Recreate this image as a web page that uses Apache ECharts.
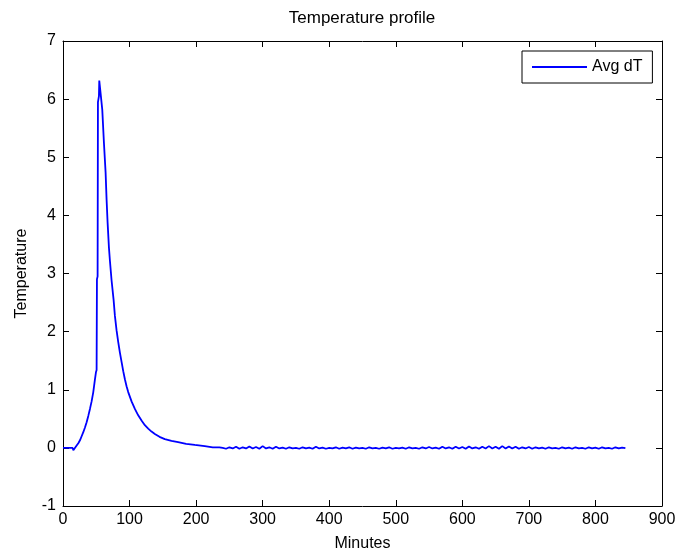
<!DOCTYPE html>
<html>
<head>
<meta charset="utf-8">
<script src="https://cdn.jsdelivr.net/npm/echarts@6/dist/echarts.min.js"></script>
<style>
html,body{margin:0;padding:0;background:#fff;}
#chart{width:683px;height:557px;}
</style>
</head>
<body>
<div id="chart"></div>
<script>
var titleText = 'Temperature profile';
var seriesName = 'Avg dT';
var xName = 'Minutes';
var yName = 'Temperature';

var minutes = [0, 5, 10, 14.5, 15.5, 18, 20.5, 23, 25.5, 28, 30.5, 33, 35.5, 38, 40.5, 43, 45.5, 48, 49.5, 50.5, 51, 52, 52.5, 54, 54.5, 55.5, 56.5, 59, 61.5, 64, 65.5, 67, 69, 70.5, 73, 76, 78, 80.5, 83, 85.5, 88, 90.5, 93, 95.5, 98, 103, 108, 113, 118, 123, 128, 133, 138, 145, 153, 163, 173, 185, 198, 213, 225, 235,
  240, 245, 250, 255, 260, 265, 270, 275, 280, 285, 290, 295, 300, 305, 310, 315, 320, 325, 330, 335, 340, 345, 350, 355, 360, 365, 370, 375, 380, 385, 390, 395, 400,
  405, 410, 415, 420, 425, 430, 435, 440, 445, 450, 455, 460, 465, 470, 475, 480, 485, 490, 495, 500, 505, 510, 515, 520, 525, 530, 535, 540, 545, 550, 555, 560, 565, 570,
  575, 580, 585, 590, 595, 600, 605, 610, 615, 620, 625, 630, 635, 640, 645, 650, 655, 660, 665, 670, 675, 680, 685, 690, 695, 700, 705, 710, 715, 720, 725, 730, 735, 740,
  745, 750, 755, 760, 765, 770, 775, 780, 785, 790, 795, 800, 805, 810, 815, 820, 825, 830, 835, 840, 845];

var avgDT = [0, 0, 0, 0, -0.04, -0.01, 0.04, 0.08, 0.13, 0.2, 0.27, 0.35, 0.44, 0.55, 0.67, 0.8, 0.96, 1.18, 1.3, 1.34, 2.9, 2.95, 5.95, 6.05, 6.32, 6.3, 6.1, 5.82, 5.25, 4.74, 4.27, 3.88, 3.45, 3.22, 2.88, 2.55, 2.27, 2.02, 1.82, 1.64, 1.48, 1.32, 1.18, 1.06, 0.96, 0.8, 0.67, 0.56, 0.47, 0.39, 0.33, 0.28, 0.24, 0.19, 0.15, 0.12, 0.1, 0.07, 0.05, 0.03, 0.01, 0.01,
  0.0, -0.015, 0.01, -0.01, 0.02, -0.015, 0.01, -0.01, 0.025, -0.01, 0.015, -0.015, 0.03, -0.01, 0.01, -0.015, 0.02, -0.01, 0.005, -0.015, 0.01, -0.01, 0.0, -0.015, 0.01, -0.01, 0.005, -0.015, 0.02, -0.01, 0.005, -0.015, 0.0,
  -0.01, 0.01, -0.015, 0.005, -0.01, 0.01, -0.015, 0.005, -0.01, 0.0, -0.015, 0.01, -0.01, 0.0, -0.015, 0.005, -0.01, 0.01, -0.015, 0.0, -0.01, 0.005, -0.015, 0.01, -0.01, 0.0, -0.015, 0.01, -0.01, 0.015, -0.01, 0.005, -0.015, 0.02,
  -0.01, 0.01, -0.015, 0.02, -0.01, 0.015, -0.015, 0.025, -0.01, 0.01, -0.015, 0.02, -0.01, 0.03, -0.01, 0.02, -0.015, 0.03, -0.01, 0.025, -0.01, 0.02, -0.015, 0.01, -0.01, 0.015, -0.015, 0.01, -0.01, 0.005, -0.015, 0.01, -0.01, 0.0,
  -0.015, 0.01, -0.01, 0.005, -0.015, 0.01, -0.01, 0.0, -0.015, 0.01, -0.01, 0.005, -0.015, 0.01, -0.01, 0.0, -0.015, 0.01, -0.01, 0.005, -0.005];

var xTicks = {min: 0, max: 900, interval: 100};
var yTicks = {min: -1, max: 7, interval: 1};

var data = minutes.map(function (m, i) { return [m, avgDT[i]]; });

var font = 'Liberation Sans, Arial, sans-serif';
function axisCommon() {
  return {
    axisLine: {show: true, onZero: false, lineStyle: {color: '#000', width: 1}},
    axisTick: {show: true, inside: true, length: 6, lineStyle: {color: '#000'}},
    splitLine: {show: false}
  };
}

var chart = echarts.init(document.getElementById('chart'), null, {renderer: 'canvas'});
chart.setOption({
  animation: false,
  backgroundColor: '#fff',
  title: {
    text: titleText, left: 357, top: 5, textAlign: 'center',
    textStyle: {fontFamily: font, fontSize: 17, fontWeight: 'normal', color: '#000'}
  },
  legend: {
    data: [{name: seriesName, icon: 'rect'}], left: 522, top: 51,
    padding: [8, 10, 8, 10], itemWidth: 55, itemHeight: 2, itemGap: 5,
    borderColor: '#000', borderWidth: 1, backgroundColor: '#fff',
    lineStyle: {width: 1.2},
    textStyle: {fontFamily: font, fontSize: 16, color: '#000', lineHeight: 16}
  },
  grid: {left: 63, right: 21, top: 41, bottom: 50, containLabel: false},
  xAxis: [
    Object.assign({
      type: 'value', min: xTicks.min, max: xTicks.max, interval: xTicks.interval, position: 'bottom',
      name: xName, nameLocation: 'middle', nameGap: 30,
      nameTextStyle: {fontFamily: font, fontSize: 16, color: '#000'},
      axisLabel: {fontFamily: font, fontSize: 16, color: '#000', margin: 6}
    }, axisCommon()),
    Object.assign({
      type: 'value', min: xTicks.min, max: xTicks.max, interval: xTicks.interval, position: 'top',
      axisLabel: {show: false}
    }, axisCommon())
  ],
  yAxis: [
    Object.assign({
      type: 'value', min: yTicks.min, max: yTicks.max, interval: yTicks.interval, position: 'left',
      name: yName, nameLocation: 'middle', nameGap: 33,
      nameTextStyle: {fontFamily: font, fontSize: 16, color: '#000'},
      axisLabel: {fontFamily: font, fontSize: 16, color: '#000', margin: 7}
    }, axisCommon()),
    Object.assign({
      type: 'value', min: yTicks.min, max: yTicks.max, interval: yTicks.interval, position: 'right',
      axisLabel: {show: false}
    }, axisCommon())
  ],
  series: [{
    name: seriesName, type: 'line', data: data, symbol: 'none', showSymbol: false,
    lineStyle: {color: '#0000ff', width: 1.8}, itemStyle: {color: '#0000ff'}
  }]
});
</script>
</body>
</html>
